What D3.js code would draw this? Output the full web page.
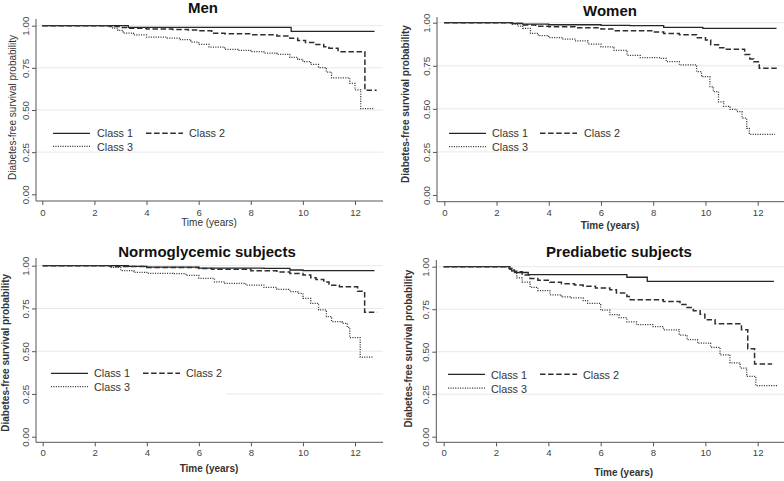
<!DOCTYPE html>
<html><head><meta charset="utf-8">
<script src="https://cdn.jsdelivr.net/npm/d3@7"></script>
<style>
html,body{margin:0;padding:0;background:#fff;}
svg{display:block;font-family:"Liberation Sans",Arial,sans-serif;}
</style></head>
<body>
<svg id="chart" width="784" height="481"></svg>
<script>
// ---------- data (time in years, survival probability) ----------
const panelTitles = ["Men", "Women", "Normoglycemic subjects", "Prediabetic subjects"];
const classNames = ["Class 1", "Class 2", "Class 3"];
const xTickValues = [0, 2, 4, 6, 8, 10, 12];
const yTickValues = [0, 0.25, 0.5, 0.75, 1];
const xAxisTitle = "Time (years)";
const yAxisTitle = "Diabetes-free survival probability";

const menClass1 = [[0,1],[3.3,0.99],[9.55,0.966],[12.75,0.966]];
const menClass2 = [[0,1],[2.6,0.995],[3.0,0.99],[3.3,0.985],[4.0,0.981],[5.0,0.978],[5.6,0.974],[6.0,0.97],[6.5,0.955],[7.0,0.952],[8.0,0.947],[9.0,0.939],[9.5,0.925],[9.8,0.912],[10.1,0.9],[10.5,0.888],[10.8,0.875],[11.0,0.866],[11.35,0.846],[12.38,0.617],[12.83,0.617]];
const menClass3 = [[0,1],[2.5,0.996],[2.7,0.985],[2.9,0.972],[3.1,0.956],[3.5,0.945],[4.0,0.932],[4.8,0.927],[5.3,0.918],[5.7,0.903],[6.0,0.889],[6.4,0.873],[7.0,0.86],[7.5,0.854],[8.0,0.846],[8.5,0.838],[9.0,0.83],[9.5,0.812],[9.8,0.8],[10.0,0.787],[10.3,0.77],[10.6,0.752],[10.9,0.725],[11.1,0.69],[11.8,0.658],[12.0,0.62],[12.22,0.508],[12.7,0.508]];

const womenClass1 = [[0,1],[2.6,0.996],[3.0,0.992],[4.0,0.988],[6.0,0.985],[7.1,0.983],[8.4,0.973],[9.9,0.967],[12.7,0.965]];
const womenClass2 = [[0,1],[2.6,0.995],[3.0,0.986],[3.5,0.98],[4.0,0.977],[5.0,0.971],[6.0,0.963],[6.5,0.954],[8.0,0.946],[8.4,0.938],[9.0,0.93],[9.66,0.913],[10.0,0.9],[10.2,0.872],[10.5,0.855],[10.8,0.846],[11.5,0.815],[11.7,0.79],[11.85,0.774],[12.06,0.735],[12.8,0.735]];
const womenClass3 = [[0,1],[2.6,0.99],[2.8,0.98],[3.0,0.967],[3.3,0.938],[3.6,0.925],[4.0,0.913],[4.5,0.905],[5.0,0.895],[5.5,0.876],[6.0,0.86],[6.5,0.84],[7.0,0.81],[7.5,0.797],[8.26,0.793],[8.5,0.774],[9.0,0.755],[9.66,0.716],[9.85,0.687],[10.17,0.629],[10.3,0.6],[10.5,0.541],[10.7,0.515],[10.94,0.497],[11.2,0.484],[11.4,0.446],[11.58,0.387],[11.68,0.352],[12.66,0.352]];

const normoClass1 = [[0,1],[3.3,0.996],[4.0,0.992],[6.0,0.986],[8.5,0.984],[9.5,0.975],[10.0,0.971],[12.75,0.971]];
const normoClass2 = [[0,1],[2.6,0.996],[4.0,0.99],[6.0,0.984],[6.5,0.979],[8.0,0.971],[9.0,0.963],[9.5,0.955],[10.0,0.945],[10.3,0.93],[10.5,0.92],[10.8,0.905],[11.0,0.886],[11.4,0.877],[12.1,0.85],[12.37,0.728],[12.85,0.728]];
const normoClass3 = [[0,1],[2.6,0.99],[3.0,0.971],[3.5,0.961],[4.0,0.955],[5.0,0.953],[5.5,0.943],[6.0,0.926],[6.6,0.906],[7.0,0.897],[7.8,0.887],[8.5,0.873],[9.0,0.862],[9.5,0.848],[9.8,0.838],[10.0,0.809],[10.3,0.78],[10.6,0.741],[10.9,0.702],[11.1,0.673],[11.5,0.663],[11.7,0.639],[11.8,0.579],[12.2,0.466],[12.7,0.466]];

const prediabClass1 = [[0,1],[2.53,0.985],[2.6,0.975],[2.72,0.966],[3.23,0.953],[7.0,0.938],[7.78,0.914],[12.62,0.914]];
const prediabClass2 = [[0,1],[2.5,0.99],[2.6,0.98],[2.7,0.97],[3.0,0.951],[3.3,0.93],[3.6,0.92],[4.06,0.908],[4.5,0.9],[5.0,0.892],[5.33,0.885],[5.8,0.875],[6.35,0.865],[6.6,0.845],[7.0,0.825],[7.13,0.806],[8.39,0.796],[9.03,0.777],[9.3,0.76],[9.54,0.741],[9.8,0.72],[9.98,0.688],[10.37,0.665],[11.38,0.629],[11.62,0.518],[11.88,0.428],[12.55,0.428]];
const prediabClass3 = [[0,1],[2.5,0.99],[2.6,0.975],[2.79,0.934],[3.0,0.91],[3.3,0.879],[3.6,0.86],[4.06,0.835],[4.5,0.822],[4.83,0.816],[5.33,0.8],[5.5,0.784],[6.0,0.745],[6.35,0.718],[6.7,0.7],[7.0,0.676],[7.37,0.659],[8.0,0.647],[8.4,0.629],[9.0,0.598],[9.3,0.571],[9.7,0.55],[10.2,0.526],[10.56,0.482],[10.94,0.434],[11.33,0.404],[11.58,0.355],[11.93,0.3],[12.75,0.3]];

const panelSeries = [
  [menClass1, menClass2, menClass3],
  [womenClass1, womenClass2, womenClass3],
  [normoClass1, normoClass2, normoClass3],
  [prediabClass1, prediabClass2, prediabClass3]
];

// ---------- layout ----------
const layouts = [
  {x0:42.3, x12:355, y1:25.7, y0:194.3, axL:36, axR:383, axB:201, axT:19, bold:false,
   titleX:203, titleY:12.7, xTitleX:209, xTitleY:225.5, yTitleX:15.8, yTitleY:107.5, xTickY:215.5,
   leg:{l1:53, l2:90, t1:97, m1:146, m2:183, t2:189, r1:133.3, r2:146.3, tb1:137.3, tb2:150.7}},
  {x0:444.3, x12:757.7, y1:22.7, y0:195, axL:437, axR:784, axB:201.7, axT:17, bold:true,
   titleX:610, titleY:15.7, xTitleX:610, xTitleY:229, yTitleX:409, yTitleY:104, xTickY:216,
   leg:{l1:449, l2:486, t1:492, m1:540, m2:577, t2:584, r1:133.3, r2:146.7, tb1:137.3, tb2:151.3}},
  {x0:42.7, x12:355, y1:265.7, y0:436.7, axL:36, axR:383, axB:442.3, axT:258, bold:true,
   titleX:207, titleY:256.7, xTitleX:209, xTitleY:472.3, yTitleX:8.5, yTitleY:352.8, xTickY:456.3,
   leg:{l1:51, l2:88, t1:94, m1:143, m2:180, t2:186, r1:373.3, r2:386.7, tb1:377.3, tb2:391.3},
   legendBox:{x:38, y:358, w:188, h:40}},
  {x0:443.7, x12:757.7, y1:266.7, y0:436.7, axL:436.3, axR:784, axB:442.3, axT:260, bold:true,
   titleX:619, titleY:257.3, xTitleX:623.7, xTitleY:476, yTitleX:411.5, yTitleY:348.7, xTickY:456.3,
   leg:{l1:448, l2:485, t1:491, m1:540, m2:577, t2:583, r1:374.3, r2:388, tb1:379.3, tb2:392.7}}
];

const lineStyles = [
  {dash:null, width:1.3, color:"#262626"},
  {dash:"5.5,2.6", width:1.5, color:"#2e2e2e"},
  {dash:"1.1,1.3", width:1.25, color:"#3a3a3a"}
];

const narrowFont = "'Liberation Sans Narrow', 'Arial Narrow', 'Liberation Sans', Arial, sans-serif";

const svg = d3.select("#chart");

layouts.forEach((L, i) => {
  const g = svg.append("g");
  const x = d3.scaleLinear().domain([0, 12]).range([L.x0, L.x12]);
  const y = d3.scaleLinear().domain([0, 1]).range([L.y0, L.y1]);

  // gridlines
  g.selectAll("line.grid").data(yTickValues.filter(v => v > 0)).enter().append("line")
    .attr("x1", L.axL).attr("x2", L.axR)
    .attr("y1", d => y(d)).attr("y2", d => y(d))
    .attr("stroke", "#e9e9e9").attr("stroke-width", 1);

  if (L.legendBox) {
    g.append("rect").attr("x", L.legendBox.x).attr("y", L.legendBox.y)
      .attr("width", L.legendBox.w).attr("height", L.legendBox.h).attr("fill", "#fff");
  }

  // axes
  const xAxis = d3.axisBottom(x).tickValues(xTickValues).tickSize(4).tickFormat(d3.format("d"));
  const xg = g.append("g").attr("transform", `translate(0,${L.axB})`).call(xAxis);
  xg.select(".domain").remove();
  xg.selectAll(".tick line").attr("stroke", "#555");
  xg.selectAll(".tick text").attr("y", L.xTickY - L.axB).attr("dy", null)
    .attr("fill", "#444").attr("font-size", "9.6px").attr("font-family", narrowFont);

  const yAxis = d3.axisLeft(y).tickValues(yTickValues).tickSize(4).tickFormat(d3.format(".2f"));
  const yg = g.append("g").attr("transform", `translate(${L.axL},0)`).call(yAxis);
  yg.select(".domain").remove();
  yg.selectAll(".tick line").attr("stroke", "#555");
  yg.selectAll(".tick text").attr("transform", "rotate(-90)")
    .attr("x", 0).attr("y", -7).attr("dy", null).attr("text-anchor", "middle")
    .attr("fill", "#444").attr("font-size", "9.8px").attr("font-family", narrowFont);

  // axis lines
  g.append("line").attr("x1", L.axL).attr("x2", L.axR).attr("y1", L.axB).attr("y2", L.axB)
    .attr("stroke", "#555").attr("stroke-width", 1);
  g.append("line").attr("x1", L.axL).attr("x2", L.axL).attr("y1", L.axT).attr("y2", L.axB)
    .attr("stroke", "#555").attr("stroke-width", 1);

  // curves
  const line = d3.line().x(d => x(d[0])).y(d => y(d[1])).curve(d3.curveStepAfter);
  panelSeries[i].forEach((series, k) => {
    const s = lineStyles[k];
    g.append("path").datum(series).attr("d", line)
      .attr("fill", "none").attr("stroke", s.color).attr("stroke-width", s.width)
      .attr("stroke-dasharray", s.dash);
  });

  // titles
  g.append("text").attr("x", L.titleX).attr("y", L.titleY).attr("text-anchor", "middle")
    .attr("font-weight", "bold").attr("font-size", "15px").attr("fill", "#111").text(panelTitles[i]);
  g.append("text").attr("x", L.xTitleX).attr("y", L.xTitleY).attr("text-anchor", "middle")
    .attr("font-weight", L.bold ? "bold" : "normal").attr("font-size", "10px").attr("fill", "#333")
    .text(xAxisTitle);
  g.append("text").attr("transform", `translate(${L.yTitleX},${L.yTitleY}) rotate(-90)`)
    .attr("text-anchor", "middle")
    .attr("font-weight", L.bold ? "bold" : "normal").attr("font-size", "10px").attr("fill", "#333")
    .text(yAxisTitle);

  // legend
  const lg = L.leg;
  const legItems = [
    {x1:lg.l1, x2:lg.l2, y:lg.r1, tx:lg.t1, ty:lg.tb1},
    {x1:lg.m1, x2:lg.m2, y:lg.r1, tx:lg.t2, ty:lg.tb1},
    {x1:lg.l1, x2:lg.l2, y:lg.r2, tx:lg.t1, ty:lg.tb2}
  ];
  legItems.forEach((it, k) => {
    const s = lineStyles[k];
    g.append("line").attr("x1", it.x1).attr("x2", it.x2).attr("y1", it.y).attr("y2", it.y)
      .attr("stroke", s.color).attr("stroke-width", s.width).attr("stroke-dasharray", s.dash);
    g.append("text").attr("x", it.tx).attr("y", it.ty).attr("font-size", "10.8px")
      .attr("font-family", narrowFont).attr("fill", "#333").text(classNames[k]);
  });
});
</script>
</body></html>
